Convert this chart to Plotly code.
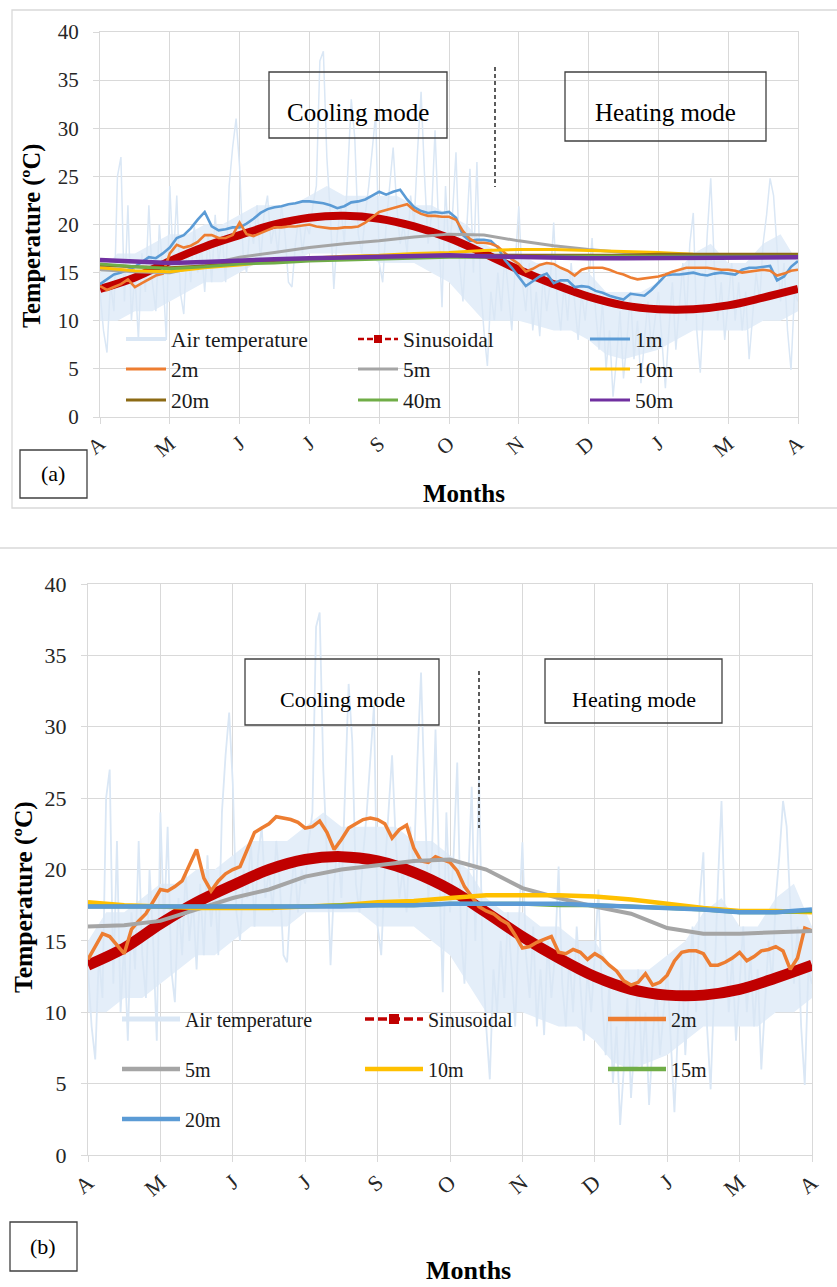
import plotly.graph_objects as go

W, H = 837, 1287
ML, MR = 88, 25
PW = W - ML - MR


def px(x):
    return (x - ML) / PW


def py(y):
    return 1 - y / H


# ---------------- data ----------------
months = ['A', 'M', 'J', 'J', 'S', 'O', 'N', 'D', 'J', 'M', 'A']
tick_pos = list(range(11))

x_air = [i * 0.05 for i in range(201)]
x_body = [i * 0.25 for i in range(41)]
x_fine = [i * 0.1 for i in range(101)]
x_coarse = [i * 0.5 for i in range(21)]

# air temperature: daily body (typical max / min) and spiky trace
air_body_upper = [15, 17, 17, 18, 19, 19, 20, 20, 21, 22, 22, 22, 23, 24, 23, 23, 23, 23, 22, 22,
                  21, 20, 18, 17, 17, 16, 16, 15, 15, 13, 13, 13, 14, 15, 17, 18, 16, 16, 18, 19, 16]
air_body_lower = [10, 10, 11, 11, 12, 13, 14, 14, 15, 16, 16, 16, 17, 17, 17, 17, 16, 16, 16, 15,
                  14, 12, 10, 10, 10, 9.5, 9, 9, 8, 6.5, 6, 6.5, 7, 8, 9, 9, 9, 9, 10, 10, 11]
air_temp = [
    13, 9, 6.7, 14, 11, 25, 27, 12, 22, 10, 15, 8, 17, 13, 22, 14, 11, 20, 15, 8,
    24, 16, 23, 13, 10.7, 18, 14, 20, 15, 18, 13, 19, 14, 21, 16, 19, 14, 24, 28, 31,
    26, 17, 15, 20, 18, 22, 16, 21, 23, 18, 20, 17, 22, 19, 14, 13.5, 18, 21, 17, 20,
    19, 22, 24, 37, 38, 27, 21, 13.3, 19, 22, 18, 26, 33, 29, 19, 17, 21, 24, 28, 31.5,
    16, 14, 20, 24, 28, 22, 18, 20, 17, 23, 20, 27.7, 33.8, 25, 18, 21, 29.8, 20, 11.4, 24,
    17, 21, 27.5, 16, 12, 19, 25.8, 15, 26.5, 14, 9, 5.3, 13, 10, 15, 11, 17, 13, 9, 16,
    21.9, 14, 11, 16, 9, 13, 8.4, 15, 11, 14, 20.2, 12, 9, 14, 10, 16, 12, 8, 13, 10,
    14, 18.6, 11, 7, 12, 5, 9, 2.1, 6, 11, 4, 8, 13, 6, 10, 3.5, 8, 12, 7, 10,
    13, 8, 3, 9, 14, 7, 12, 16, 10, 18, 21.2, 9, 4.6, 12, 19, 24.8, 16, 10, 14, 8,
    12, 16, 10, 14, 9, 13, 6, 11, 15, 12, 18, 21, 24.8, 23, 17, 12, 16, 9, 4.9, 13, 12,
]

sinusoidal = [13.3, 14.5, 16.2, 17.7, 18.9, 20.0, 20.7, 20.9, 20.6, 19.8, 18.6,
              17.0, 15.3, 13.8, 12.5, 11.6, 11.2, 11.2, 11.6, 12.4, 13.3]

# panel (a)
a_1m = [
    13.8, 14.3, 14.8, 15.0, 15.3, 15.6, 16.1, 16.6, 16.5, 17.0,
    17.6, 18.6, 18.9, 19.6, 20.5, 21.3, 19.8, 19.4, 19.5, 19.7,
    19.7, 20.1, 20.6, 21.2, 21.6, 21.8, 21.9, 22.1, 22.2, 22.4,
    22.4, 22.3, 22.2, 22.0, 21.7, 21.9, 22.3, 22.4, 22.6, 23.0,
    23.4, 23.1, 23.4, 23.6, 22.6, 21.8, 21.4, 21.2, 21.3, 21.2,
    21.3, 20.7, 18.9, 18.3, 18.4, 18.4, 18.3, 17.6, 16.3, 15.5,
    14.6, 13.6, 14.1, 14.6, 14.9, 13.9, 14.2, 14.2, 13.5, 13.6,
    13.5, 13.1, 12.9, 12.6, 12.4, 12.2, 12.8, 12.7, 12.6, 13.2,
    14.0, 14.7, 14.8, 14.8, 14.9, 15.0, 14.8, 14.7, 14.9, 15.0,
    14.9, 14.8, 15.3, 15.5, 15.5, 15.6, 15.7, 14.2, 14.6, 15.6, 16.2,
]
a_2m = [
    13.6, 13.2, 13.5, 13.8, 14.3, 13.5, 13.9, 14.3, 14.7, 14.9,
    17.0, 17.9, 17.6, 17.8, 18.2, 18.9, 18.9, 18.6, 18.6, 18.9,
    20.2, 19.0, 18.8, 19.1, 19.4, 19.7, 19.7, 19.8, 19.8, 19.9,
    20.0, 19.8, 19.7, 19.6, 19.6, 19.7, 19.7, 19.8, 20.2, 20.8,
    21.3, 21.5, 21.7, 21.9, 22.1, 21.5, 21.1, 20.9, 20.9, 20.8,
    20.8, 20.5, 19.3, 18.5, 18.1, 18.1, 18.0, 17.7, 17.0, 16.4,
    15.9, 15.1, 15.4, 15.8, 16.0, 15.9, 15.5, 15.2, 14.7, 15.3,
    15.5, 15.5, 15.5, 15.3, 15.0, 14.8, 14.5, 14.3, 14.4, 14.5,
    14.6, 14.8, 15.1, 15.3, 15.5, 15.5, 15.5, 15.5, 15.4, 15.3,
    15.3, 15.2, 15.0, 15.1, 15.2, 15.3, 15.2, 14.7, 14.9, 15.2, 15.3,
]
a_5m = [15.3, 15.1, 15.0, 15.8, 16.6, 17.1, 17.6, 18.0, 18.3, 18.7, 19.0,
        18.9, 18.3, 17.8, 17.4, 17.1, 16.9, 16.8, 16.8, 16.8, 16.8]
a_10m = [15.5, 15.2, 15.1, 15.5, 15.8, 16.2, 16.5, 16.7, 16.8, 17.0, 17.1,
         17.3, 17.4, 17.4, 17.3, 17.2, 17.1, 16.9, 16.8, 16.8, 16.8]
a_20m = [15.8, 15.6, 15.5, 15.7, 16.0, 16.2, 16.3, 16.4, 16.5, 16.6, 16.7,
         16.8, 16.8, 16.8, 16.8, 16.8, 16.9, 16.9, 16.9, 16.9, 16.9]
a_40m = [15.9, 15.6, 15.4, 15.6, 15.9, 16.0, 16.2, 16.3, 16.4, 16.5, 16.6,
         16.6, 16.6, 16.7, 16.7, 16.7, 16.7, 16.7, 16.7, 16.7, 16.7]
a_50m = [16.3, 16.2, 16.0, 16.1, 16.3, 16.4, 16.5, 16.6, 16.7, 16.7, 16.8,
         16.7, 16.6, 16.6, 16.5, 16.5, 16.5, 16.5, 16.5, 16.5, 16.6]

# panel (b)
b_2m = [
    13.7, 14.6, 15.5, 15.3, 14.7, 14.1, 15.8, 16.4, 16.9, 17.8,
    18.6, 18.5, 18.8, 19.2, 20.3, 21.4, 19.4, 18.5, 19.2, 19.7,
    20.0, 20.2, 21.4, 22.6, 22.9, 23.2, 23.7, 23.6, 23.5, 23.3,
    22.9, 23.0, 23.4, 22.6, 21.4, 22.1, 22.9, 23.2, 23.5, 23.6,
    23.5, 23.2, 22.2, 22.8, 23.1, 21.5, 20.6, 20.5, 20.9, 20.7,
    20.5, 19.9, 18.8, 18.1, 17.4, 17.1, 16.9, 16.5, 16.2, 15.4,
    14.5, 14.6, 14.9, 15.1, 15.3, 14.2, 14.1, 14.4, 14.2, 13.7,
    14.1, 13.8, 13.3, 12.9, 12.2, 11.9, 12.1, 12.7, 11.9, 12.1,
    12.6, 13.6, 14.2, 14.3, 14.3, 14.1, 13.3, 13.3, 13.5, 13.8,
    14.2, 13.6, 13.9, 14.3, 14.4, 14.6, 14.3, 13.0, 13.8, 15.9, 15.7,
]
b_5m = [16.0, 16.1, 16.4, 17.2, 18.0, 18.6, 19.5, 20.0, 20.3, 20.6, 20.7,
        20.0, 18.7, 18.0, 17.4, 16.9, 15.9, 15.5, 15.5, 15.6, 15.7]
b_10m = [17.7, 17.5, 17.4, 17.3, 17.3, 17.3, 17.4, 17.5, 17.7, 17.8, 18.0,
         18.2, 18.2, 18.2, 18.1, 17.9, 17.6, 17.3, 17.1, 17.1, 17.0]
b_15m = [17.4, 17.4, 17.4, 17.4, 17.4, 17.4, 17.4, 17.5, 17.5, 17.5, 17.6,
         17.6, 17.6, 17.5, 17.5, 17.4, 17.3, 17.2, 17.0, 17.0, 17.1]
b_20m = [17.4, 17.4, 17.4, 17.4, 17.4, 17.4, 17.4, 17.4, 17.5, 17.5, 17.6,
         17.6, 17.6, 17.6, 17.5, 17.4, 17.3, 17.2, 17.0, 17.0, 17.2]

# ---------------- styles ----------------
C_AIR = '#DAE7F5'
C_AIR_FILL = '#E4EEF9'
C_SIN = '#C00000'
C_1M = '#5B9BD5'
C_2M = '#ED7D31'
C_5M = '#A5A5A5'
C_10M = '#FFC000'
C_20M = '#8C6A14'
C_40M = '#70AD47'
C_50M = '#7030A0'
FONT = 'Liberation Serif'

fig = go.Figure()


def line(x, y, color, width, xa, ya, shape='linear'):
    fig.add_trace(go.Scatter(x=x, y=y, mode='lines', showlegend=False, hoverinfo='skip',
                             line=dict(color=color, width=width, shape=shape),
                             xaxis=xa, yaxis=ya))


def air_band(xa, ya):
    fig.add_trace(go.Scatter(x=x_body, y=air_body_lower, mode='lines', showlegend=False,
                             hoverinfo='skip', line=dict(width=0, color=C_AIR_FILL),
                             xaxis=xa, yaxis=ya))
    fig.add_trace(go.Scatter(x=x_body, y=air_body_upper, mode='lines', showlegend=False,
                             hoverinfo='skip', line=dict(width=0, color=C_AIR_FILL),
                             fill='tonexty', fillcolor=C_AIR_FILL, xaxis=xa, yaxis=ya))


# panel (a)
air_band('x', 'y')
line(x_air, air_temp, C_AIR, 1.5, 'x', 'y')
line(x_coarse, sinusoidal, C_SIN, 8, 'x', 'y', 'spline')
line(x_fine, a_1m, C_1M, 2.6, 'x', 'y')
line(x_fine, a_2m, C_2M, 2.6, 'x', 'y')
line(x_coarse, a_5m, C_5M, 3, 'x', 'y')
line(x_coarse, a_10m, C_10M, 3, 'x', 'y')
line(x_coarse, a_20m, C_20M, 3, 'x', 'y')
line(x_coarse, a_40m, C_40M, 3, 'x', 'y')
line(x_coarse, a_50m, C_50M, 4.5, 'x', 'y')

# panel (b)
air_band('x2', 'y2')
line(x_air, air_temp, C_AIR, 1.8, 'x2', 'y2')
line(x_coarse, sinusoidal, C_SIN, 11, 'x2', 'y2', 'spline')
line(x_fine, b_2m, C_2M, 3.5, 'x2', 'y2')
line(x_coarse, b_5m, C_5M, 4, 'x2', 'y2')
line(x_coarse, b_10m, C_10M, 4.5, 'x2', 'y2')
line(x_coarse, b_15m, C_40M, 4, 'x2', 'y2')
line(x_coarse, b_20m, C_1M, 4.5, 'x2', 'y2')

# ---------------- legends (one legend box per entry) ----------------
legend_layouts = {}


def legend_cfg(xpx, ypx, size, itemwidth):
    return dict(x=px(xpx), y=py(ypx), xanchor='left', yanchor='middle', orientation='h',
                bgcolor='rgba(0,0,0,0)', borderwidth=0,
                font=dict(family=FONT, size=size, color='#1a1a1a'),
                itemwidth=itemwidth, itemclick=False, itemdoubleclick=False)


entries_a = [
    ('Air temperature', C_AIR, 4, None, 0, 0),
    ('Sinusoidal', C_SIN, 2.5, 8, 1, 0),
    ('1m', C_1M, 3, None, 2, 0),
    ('2m', C_2M, 3, None, 0, 1),
    ('5m', C_5M, 3, None, 1, 1),
    ('10m', C_10M, 3, None, 2, 1),
    ('20m', C_20M, 3, None, 0, 2),
    ('40m', C_40M, 3, None, 1, 2),
    ('50m', C_50M, 3, None, 2, 2),
]
entries_b = [
    ('Air temperature', C_AIR, 5, None, 0, 0),
    ('Sinusoidal', C_SIN, 3.5, 10, 1, 0),
    ('2m', C_2M, 4.5, None, 2, 0),
    ('5m', C_5M, 4.5, None, 0, 1),
    ('10m', C_10M, 4.5, None, 1, 1),
    ('15m', C_40M, 4.5, None, 2, 1),
    ('20m', C_1M, 4.5, None, 0, 2),
]
cols_a, rows_a = [121, 353, 585], [339, 369, 400]
cols_b, rows_b = [117, 360, 603], [1019, 1069, 1119]

n = 0
for entries, cols, rows, xa, ya, size, iw, dash in (
        (entries_a, cols_a, rows_a, 'x', 'y', 21.5, 40, '6px,3px'),
        (entries_b, cols_b, rows_b, 'x2', 'y2', 20, 58, '9px,4px')):
    for name, color, width, marker, c, r in entries:
        n += 1
        lid = 'legend' if n == 1 else 'legend%d' % n
        kw = dict(x=[None], y=[None], name=name, legend=lid, xaxis=xa, yaxis=ya,
                  mode='lines', line=dict(color=color, width=width))
        if marker:
            kw['mode'] = 'lines+markers'
            kw['line']['dash'] = dash
            kw['marker'] = dict(symbol='square', size=marker, color=color)
        fig.add_trace(go.Scatter(**kw))
        legend_layouts[lid] = legend_cfg(cols[c], rows[r], size, iw)

GRID = '#d9d9d9'


def xaxis_cfg(domain, anchor, size, standoff):
    return dict(domain=domain, anchor=anchor, range=[0, 10], tickmode='array',
                tickvals=tick_pos, ticktext=months, tickangle=-40,
                showgrid=True, gridcolor=GRID, gridwidth=1.3,
                showline=True, linecolor=GRID, linewidth=1.3, mirror=True,
                ticks='outside', ticklen=6, tickwidth=1.3, tickcolor=GRID,
                zeroline=False, ticklabelstandoff=standoff,
                tickfont=dict(family=FONT, size=size, color='#262626'))


def yaxis_cfg(domain, anchor, size, standoff):
    return dict(domain=domain, anchor=anchor, range=[0, 40], dtick=5, tick0=0,
                showgrid=True, gridcolor=GRID, gridwidth=1.3,
                showline=True, linecolor=GRID, linewidth=1.3, mirror=True,
                ticks='outside', ticklen=6, tickwidth=1.3, tickcolor=GRID,
                zeroline=False, ticklabelstandoff=standoff,
                tickfont=dict(family=FONT, size=size, color='#262626'))


shapes = []


def rect(x0, y0, x1, y1, color='#404040', width=1.3):
    shapes.append(dict(type='rect', xref='paper', yref='paper', x0=px(x0), x1=px(x1),
                       y0=py(y0), y1=py(y1), line=dict(color=color, width=width),
                       fillcolor='rgba(0,0,0,0)', layer='above'))


def vline(x, y0, y1):
    shapes.append(dict(type='line', xref='paper', yref='paper', x0=px(x), x1=px(x),
                       y0=py(y0), y1=py(y1), line=dict(color='#333333', width=1.6, dash='4px,3px')))


# chart borders
rect(12, 10, 845, 508, color=GRID, width=1.3)
shapes.append(dict(type='line', xref='paper', yref='paper', x0=px(-5), x1=px(845),
                   y0=py(548), y1=py(548), line=dict(color=GRID, width=1.3)))
# mode boxes
rect(269, 72, 447, 138)
rect(565, 72, 766, 141)
rect(245, 659, 439, 725)
rect(545, 659, 722, 723)
# panel label boxes
rect(20, 450, 87, 498)
rect(10, 1222, 77, 1271)
# dashed separators
vline(495, 67, 187)
vline(479, 671, 828)

annotations = []


def text(t, x, y, size, bold=False, angle=0):
    annotations.append(dict(text=('<b>%s</b>' % t) if bold else t, xref='paper', yref='paper',
                            x=px(x), y=py(y), xanchor='center', yanchor='middle',
                            showarrow=False, textangle=angle,
                            font=dict(family=FONT, size=size, color='#000000')))


text('Cooling mode', 358, 113, 25)
text('Heating mode', 665, 113, 25)
text('Cooling mode', 342, 699, 22)
text('Heating mode', 634, 699, 22)
text('(a)', 53, 474, 22)
text('(b)', 43, 1246, 22)
text('Temperature (ºC)', 32, 236, 24.5, bold=True, angle=-90)
text('Temperature (ºC)', 23, 897, 25.5, bold=True, angle=-90)
text('Months', 464, 493, 25, bold=True)
text('Months', 468, 1270, 26, bold=True)

fig.update_layout(
    width=W, height=H,
    margin=dict(l=ML, r=MR, t=0, b=0, autoexpand=False),
    paper_bgcolor='white', plot_bgcolor='white',
    xaxis=xaxis_cfg([px(100), px(798)], 'y', 21, -1),
    yaxis=yaxis_cfg([py(417), py(32)], 'x', 21, 10),
    xaxis2=xaxis_cfg([px(88), px(812)], 'y2', 22, -1),
    yaxis2=yaxis_cfg([py(1155), py(584)], 'x2', 22, 10),
    shapes=shapes,
    annotations=annotations,
    showlegend=True,
    **legend_layouts,
)

fig.write_html('out.html')
